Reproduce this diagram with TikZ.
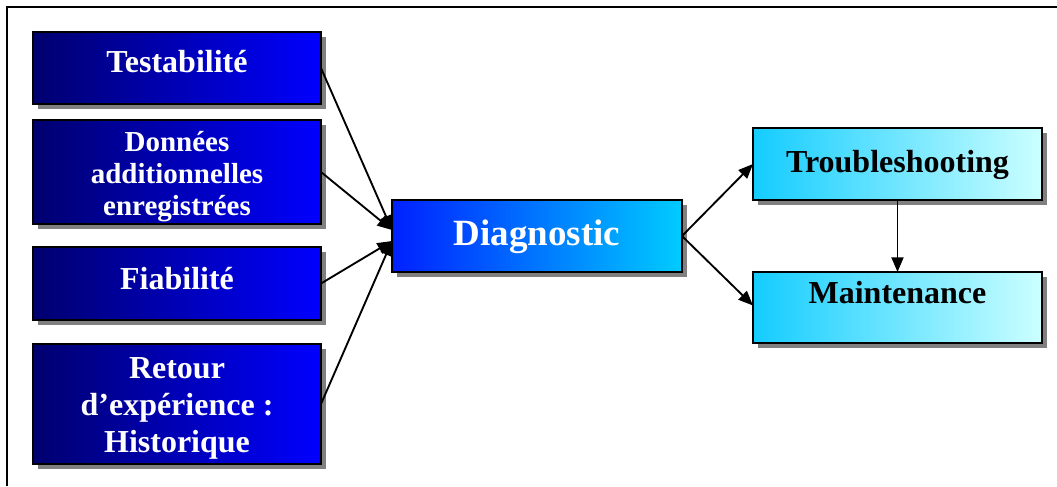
\documentclass[tikz,border=0pt]{standalone}
\usepackage{fontspec}
\setmainfont{Liberation Serif}
\usetikzlibrary{arrows.meta,shadows,calc}
\definecolor{navyL}{RGB}{0,0,110}
\definecolor{blueR}{RGB}{0,0,255}
\definecolor{diagL}{RGB}{0,32,255}
\definecolor{diagR}{RGB}{0,204,255}
\definecolor{cyL}{RGB}{20,204,255}
\definecolor{cyR}{RGB}{204,255,255}
\definecolor{shadowgray}{RGB}{128,128,128}
\begin{document}
\begin{tikzpicture}[x=0.75pt,y=-0.75pt,
  box/.style={draw=black,line width=1.1pt,rectangle,inner sep=0pt,outer sep=0pt,
    drop shadow={shadow xshift=3.75pt,shadow yshift=-3.75pt,fill=shadowgray,opacity=1}},
  leftbox/.style={box,left color=navyL,right color=blueR,minimum width=216pt},
  diagbox/.style={box,left color=diagL,right color=diagR},
  rightbox/.style={box,left color=cyL,right color=cyR,minimum width=216.75pt},
  wlbl/.style={text=white,font=\bfseries\fontsize{24}{27.75}\selectfont,inner sep=0pt,align=center},
  blbl/.style={text=black,font=\bfseries\fontsize{24}{27.75}\selectfont,inner sep=0pt,align=center},
  conn/.style={line width=1.4pt,-{Triangle[length=11pt,width=9pt]}}]
\useasboundingbox (0,0) rectangle (1057,486);
\fill[white] (0,0) rectangle (1057,486);
\draw[line width=1.5pt] (7,486) -- (7,7) -- (1057,7);
% boxes
\node[leftbox,minimum height=54pt] (t1) at (177,68) {};
\node[leftbox,minimum height=78pt] (t2) at (177,172) {};
\node[leftbox,minimum height=54.75pt] (t3) at (177,283.5) {};
\node[leftbox,minimum height=90pt] (t4) at (177,404) {};
\node[diagbox,minimum width=217.5pt,minimum height=54pt] (diag) at (537,236) {};
\node[rightbox,minimum height=54pt] (trb) at (897.5,164) {};
\node[rightbox,minimum height=53.25pt] (mnt) at (897.5,307.5) {};
% labels
\node[wlbl,anchor=base] (t1l) at (177,72) {Testabilité};
\node[wlbl,font=\bfseries\fontsize{21.75}{24}\selectfont] (t2l) at (177,177) {Données\\additionnelles\\enregistrées};
\node[wlbl,anchor=base] (t3l) at (177,289) {Fiabilité};
\node[wlbl] (t4l) at (177,408) {Retour\\d’expérience :\\Historique};
\node[wlbl,font=\bfseries\fontsize{27.75}{30}\selectfont,anchor=base] (diagl) at (537,245) {Diagnostic};
\node[blbl,anchor=base] (trbl) at (897.5,172) {Troubleshooting};
\node[blbl,anchor=base] (mntl) at (897.5,303) {Maintenance};
% connectors
\draw[conn] (t1.east) -- ($(diag.west)+(0,-6)$);
\draw[conn] (t2.east) -- ($(diag.west)+(0,-6)$);
\draw[conn] (t3.east) -- ($(diag.west)+(0,5)$);
\draw[conn] (t4.east) -- ($(diag.west)+(0,5)$);
\draw[conn] (diag.east) -- (trb.west);
\draw[conn] (diag.east) -- ($(mnt.west)+(0,-2)$);
\draw[conn] (trb.south) -- (mnt.north);
\end{tikzpicture}
\end{document}
